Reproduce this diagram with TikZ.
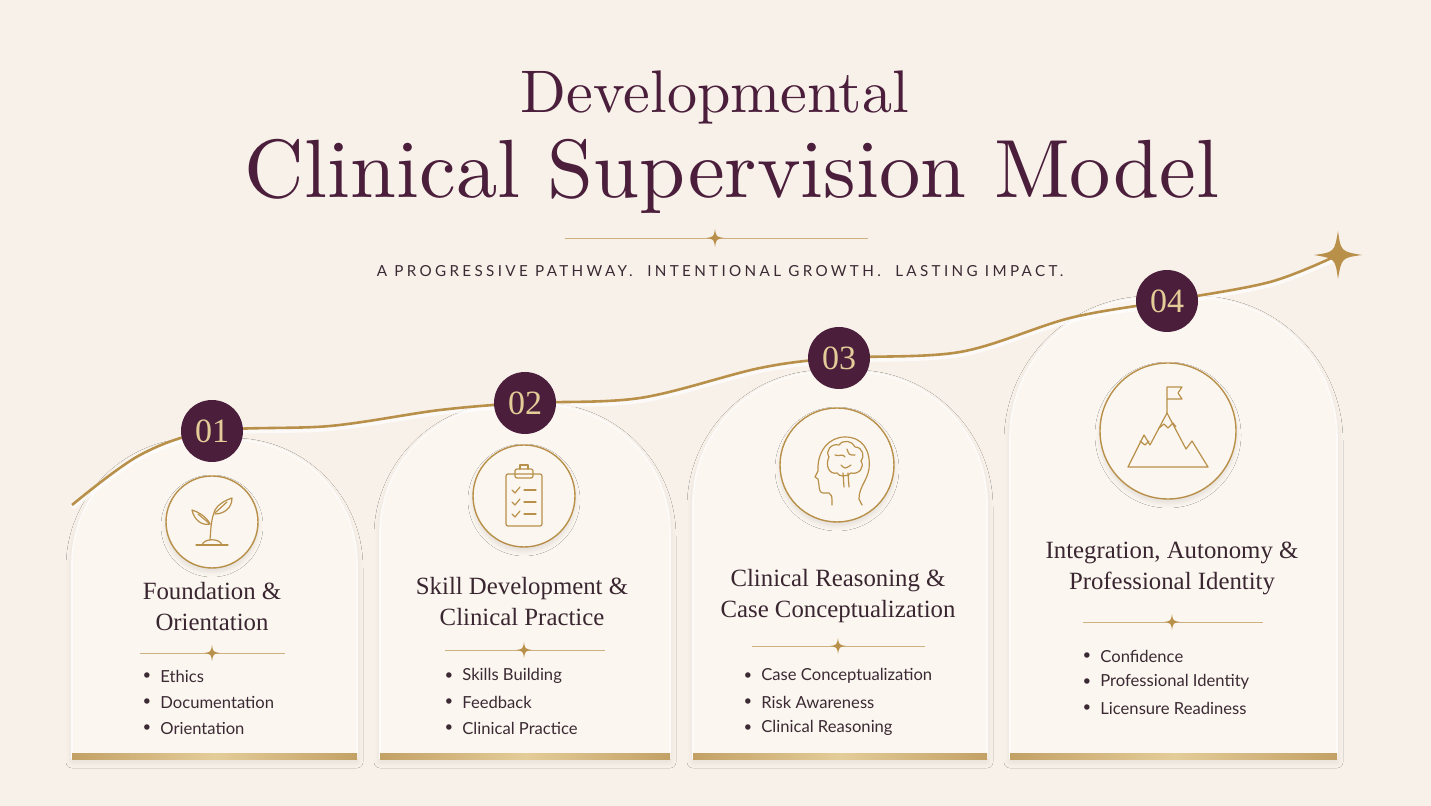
\documentclass[tikz,border=0pt]{standalone}
\usepackage{fontspec}
\usepackage{graphicx}
\newfontfamily\sansf{Lato}
\newfontfamily\serift{Liberation Serif}
\newfontfamily\spacedf{Lato}[LetterSpace=22]
\usetikzlibrary{shadows.blur}
\definecolor{bg}{HTML}{F8F1EA}
\definecolor{card}{HTML}{FBF6F0}
\definecolor{plum}{HTML}{4B1F3C}
\definecolor{gold}{HTML}{B8904A}
\definecolor{lgold}{HTML}{E4CC98}
\definecolor{ink}{HTML}{3B2A33}
\definecolor{tinkc}{HTML}{3A2630}
\newcommand\mysparkle[3]{\fill[gold] (#1,#2) ++(0,-#3) .. controls +(0.12*#3,0.85*#3) .. ++(#3,#3) .. controls +(-0.85*#3,0.12*#3) .. ++(-#3,#3) .. controls +(-0.12*#3,-0.85*#3) .. ++(-#3,-#3) .. controls +(0.85*#3,-0.12*#3) .. cycle;}
\tikzset{
  cardbox/.style={fill=card, draw=white!60!card, line width=0.8pt, blur shadow={shadow blur steps=8, shadow xshift=0pt, shadow yshift=-2pt, shadow opacity=8, shadow blur radius=3pt}},
  badge/.style={circle, fill=plum, minimum size=31pt, inner sep=0pt, text=lgold, font=\serift\fontsize{17}{17}\selectfont},
  iconc/.style={circle, fill=card, draw=gold, line width=0.7pt, blur shadow={shadow blur steps=6, shadow xshift=0pt, shadow yshift=-2pt, shadow opacity=10, shadow blur radius=2.5pt}},
  ctitle/.style={align=center, text=tinkc, font=\serift\fontsize{12.4}{15.5}\selectfont},
  item/.style={anchor=west, text=ink, font=\sansf\fontsize{8.3}{10}\selectfont, inner sep=0pt},
  dot/.style={anchor=center, text=ink, font=\sansf\fontsize{6}{8}\selectfont, inner sep=0pt},
  icon/.style={draw=gold, line width=0.6pt, line cap=round, line join=round},
  divl/.style={draw=gold!70, line width=0.4pt}
}
\begin{document}
\begin{tikzpicture}[x=0.5pt,y=-0.5pt]
\fill[bg] (0,0) rectangle (1431,806);
\useasboundingbox (0,0) rectangle (1431,806);
% titles
\node[text=plum] (t1) at (715,97) {\resizebox{194pt}{!}{Developmental}};
\node[text=plum] (t2) at (732,176) {\resizebox{487pt}{!}{Clinical Supervision Model}};
\draw[divl] (565,238) -- (868,238);
\mysparkle{715}{238}{9}
\node[text=ink, font=\spacedf\fontsize{7.6}{9}\selectfont] (sub) at (720,271) {A PROGRESSIVE PATHWAY.\ \ INTENTIONAL GROWTH.\ \ LASTING IMPACT.};
% cards
\path[cardbox] (72,758) {[rounded corners=62pt] -- (72,440) -- (357,440)} -- (357,758) -- cycle;
\path[cardbox] (380,758) {[rounded corners=64pt] -- (380,405) -- (670,405)} -- (670,758) -- cycle;
\path[cardbox] (693,758) {[rounded corners=66pt] -- (693,372) -- (987,372)} -- (987,758) -- cycle;
\path[cardbox] (1010,758) {[rounded corners=70pt] -- (1010,298) -- (1337,298)} -- (1337,758) -- cycle;
\foreach \a/\b in {72/357,380/670,693/987,1010/1337}{
  \shade[left color=gold!85, right color=gold!85, middle color=lgold] (\a,754) rectangle (\b,760);}
% curve
\draw[white, line width=3pt, opacity=0.7] plot[smooth, tension=0.55] coordinates {(72,507) (140,457) (212,433) (330,428) (440,412) (525,405) (640,400) (760,370) (839,360) (960,354) (1070,320) (1167,303) (1270,284) (1338,257)};
\draw[gold, line width=1.3pt] plot[smooth, tension=0.55] coordinates {(72,505) (140,455) (212,431) (330,426) (440,410) (525,403) (640,398) (760,368) (839,358) (960,352) (1070,318) (1167,301) (1270,282) (1338,255)};
\mysparkle{1338}{255}{24}
% badges
\node[badge] (b1) at (212,431) {01};
\node[badge] (b2) at (525,403) {02};
\node[badge] (b3) at (839,358) {03};
\node[badge] (b4) at (1167,301) {04};
% icon circles
\node[iconc, minimum size=46pt] (c1) at (212,522) {};
\node[iconc, minimum size=51pt] (c2) at (524,496) {};
\node[iconc, minimum size=57pt] (c3) at (837,465) {};
\node[iconc, minimum size=68pt] (c4) at (1168,431) {};
% sprout
\begin{scope}[shift={(212,522)}]
\draw[icon] (-16,23) -- (16,23);
\draw[icon] (-10,23) .. controls (-8,16) and (8,16) .. (10,23);
\draw[icon] (-2,18) .. controls (-1,5) and (-1,-2) .. (3,-12);
\draw[icon] (-2,2) .. controls (-6,-6) and (-14,-10) .. (-20,-12) .. controls (-18,-2) and (-10,4) .. (-2,2);
\draw[icon] (3,-12) .. controls (6,-18) and (14,-22) .. (20,-24) .. controls (20,-14) and (12,-8) .. (3,-8);
\draw[icon] (-2,2) -- (-14,-8);
\draw[icon] (3,-9) -- (15,-20);
\end{scope}
% clipboard
\begin{scope}[shift={(524,496)}]
\draw[icon, rounded corners=1pt] (-18,-22) rectangle (18,30);
\draw[icon, rounded corners=1pt] (-9,-27) rectangle (9,-18);
\draw[icon] (-4,-27) -- (-4,-31) -- (4,-31) -- (4,-27);
\foreach \y in {-6,6,18}{
  \draw[icon] (-12,\y) -- (-9,\y+3) -- (-4,\y-3);
  \draw[icon] (0,\y) -- (12,\y);}
\end{scope}
% head with brain
\begin{scope}[shift={(837,465)}]
\draw[icon] (-5,40) .. controls (-5,30) .. (-8,28) -- (-14,28) .. controls (-17,28) and (-18,24) .. (-18,20) -- (-19,14) -- (-22,12) -- (-19,6) .. controls (-20,-14) and (-8,-28) .. (8,-28) .. controls (26,-28) and (34,-14) .. (32,4) .. controls (30,16) and (22,22) .. (22,34) -- (25,40);
\draw[icon] (-8,-8) .. controls (-12,-14) and (-6,-22) .. (2,-20) .. controls (6,-26) and (16,-24) .. (18,-18) .. controls (26,-18) and (28,-8) .. (24,-4) .. controls (28,2) and (22,10) .. (14,8) .. controls (10,12) and (2,12) .. (0,8) .. controls (-8,10) and (-12,0) .. (-8,-8);
\draw[icon] (6,8) -- (7,22) (11,8) -- (12,22);
\draw[icon] (-2,-10) .. controls (2,-8) and (6,-12) .. (8,-8) (10,-16) .. controls (12,-10) .. (18,-10) (4,0) .. controls (8,4) .. (14,0);
\end{scope}
% mountain
\begin{scope}[shift={(1168,431)}]
\draw[icon] (-40,36) -- (40,36) -- (24,10) -- (18,18) -- (-1,-18) -- (-18,14) -- (-24,4) -- cycle;
\draw[icon] (-1,-18) -- (-1,-44) -- (14,-44) -- (10,-38) -- (14,-32) -- (-1,-32);
\draw[icon] (-9,-3) -- (-4,-7) -- (0,-3) -- (5,-8) -- (8,-4);
\draw[icon] (-28,10) -- (-23,14) -- (-19,10);
\end{scope}
% card texts
\node[ctitle] (h1) at (212,607) {Foundation \&\\Orientation};
\node[ctitle] (h2) at (522,602) {Skill Development \&\\Clinical Practice};
\node[ctitle] (h3) at (838,596) {Clinical Reasoning \&\\Case Conceptualization};
\node[ctitle] (h4) at (1172,568) {Integration, Autonomy \&\\Professional Identity};
\foreach \cx/\a/\b/\y in {212/140/285/653, 524/445/605/650, 838/752/925/646, 1172/1083/1263/622}{
  \draw[divl] (\a,\y) -- (\b,\y);
  \mysparkle{\cx}{\y}{8}}
% bullets
\foreach \i/\t in {1/Ethics,2/Documentation,3/Orientation}{
  \node[dot] at (147,650+26*\i) {$\bullet$}; \node[item] at (160,650+26*\i) {\t};}
\foreach \i/\t in {1/Skills Building,2/Feedback,3/Clinical Practice}{
  \node[dot] at (449,650+26*\i) {$\bullet$}; \node[item] at (462,650+26*\i) {\t};}
\foreach \i/\t in {1/Case Conceptualization,2/Risk Awareness,3/Clinical Reasoning}{
  \node[dot] at (748,650+26*\i) {$\bullet$}; \node[item] at (761,650+26*\i) {\t};}
\foreach \i/\t in {1/Confidence,2/Professional Identity,3/Licensure Readiness}{
  \node[dot] at (1087,630+26*\i) {$\bullet$}; \node[item] at (1100,630+26*\i) {\t};}
\end{tikzpicture}
\end{document}
